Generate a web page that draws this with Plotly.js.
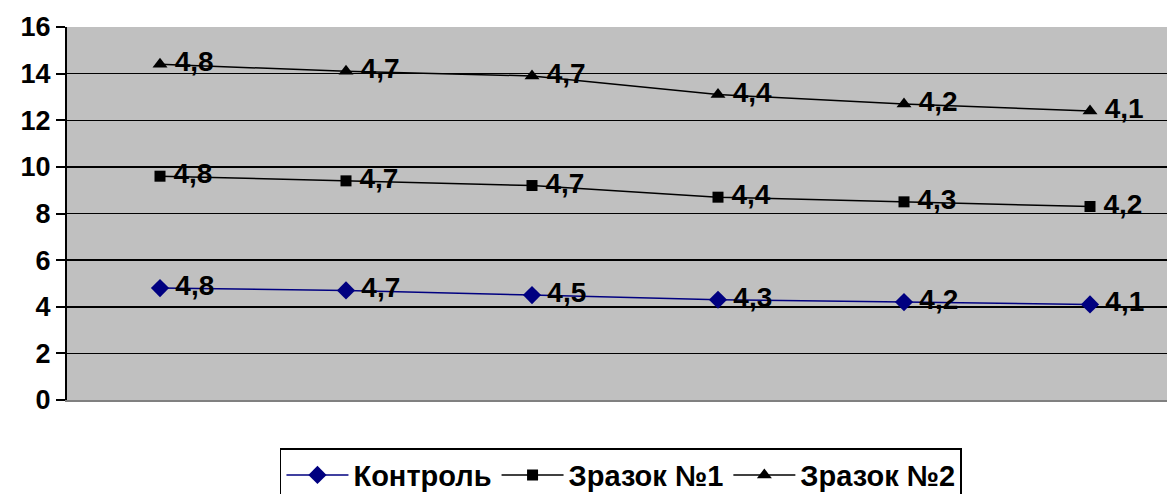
<!DOCTYPE html>
<html><head><meta charset="utf-8">
<script src="https://cdn.plot.ly/plotly-3.0.1.min.js"></script>
<style>html,body{margin:0;padding:0;background:#fff}</style>
</head><body>
<div id="chart" style="width:1167px;height:494px"></div>
<script>
const categories = [1, 2, 3, 4, 5, 6];
const seriesNames = ["Контроль", "Зразок №1", "Зразок №2"];
const control = [4.8, 4.7, 4.5, 4.3, 4.2, 4.1];
const sample1 = [4.8, 4.7, 4.7, 4.4, 4.3, 4.2];
const sample2 = [4.8, 4.7, 4.7, 4.4, 4.2, 4.1];
const yTicks = [0, 2, 4, 6, 8, 10, 12, 14, 16];

const fmt = v => '\u2009' + v.toFixed(1).replace('.', ',');
const xIdx = categories.map((c, i) => i);
const FONT = 'Liberation Sans, Arial, sans-serif';

function tr(name, vals, color, symbol, size) {
  return {
    type: 'scatter', mode: 'lines+markers+text', name: name,
    x: xIdx, y: vals, stackgroup: 'one', fill: 'none',
    line: {color: color, width: 1.5},
    marker: {color: color, symbol: symbol, size: size},
    text: vals.map(fmt), textposition: 'middle right',
    textfont: {family: FONT, size: 28, color: '#000', weight: 'bold'},
    hoverinfo: 'skip', cliponaxis: false
  };
}
const data = [
  tr(seriesNames[0], control, '#000080', 'diamond', 14),
  tr(seriesNames[1], sample1, '#000', 'square', 11),
  tr(seriesNames[2], sample2, '#000', 'triangle-up', 13)
];
const layout = {
  width: 1167, height: 494,
  margin: {l: 67, r: 0, t: 27, b: 94, autoexpand: false},
  paper_bgcolor: '#fff', plot_bgcolor: '#C0C0C0',
  font: {family: FONT, size: 20, color: '#000'},
  showlegend: true,
  legend: {orientation: 'h', x: 0.5036, xanchor: 'center', y: -0.129, yanchor: 'top',
    bordercolor: '#000', borderwidth: 1.5, bgcolor: '#fff', itemwidth: 62,
    font: {family: FONT, size: 29, weight: 'bold'}, traceorder: 'normal'},
  xaxis: {range: [-0.5, 5.414], showticklabels: false, showgrid: false, zeroline: false,
    ticks: '', showline: true, linecolor: '#808080', linewidth: 2, mirror: false, fixedrange: true},
  yaxis: {range: [0, 16], tickvals: yTicks, ticktext: yTicks.map(String),
    showgrid: true, gridcolor: '#000', gridwidth: 1.5, zeroline: false,
    showline: true, linecolor: '#000', linewidth: 2, ticks: 'outside', ticklen: 9, tickcolor: '#000', tickwidth: 2,
    tickfont: {family: FONT, size: 27, weight: 'bold'}, fixedrange: true},
  separators: ',.'
};
Plotly.newPlot('chart', data, layout, {displayModeBar: false, staticPlot: true});
</script>
</body></html>
